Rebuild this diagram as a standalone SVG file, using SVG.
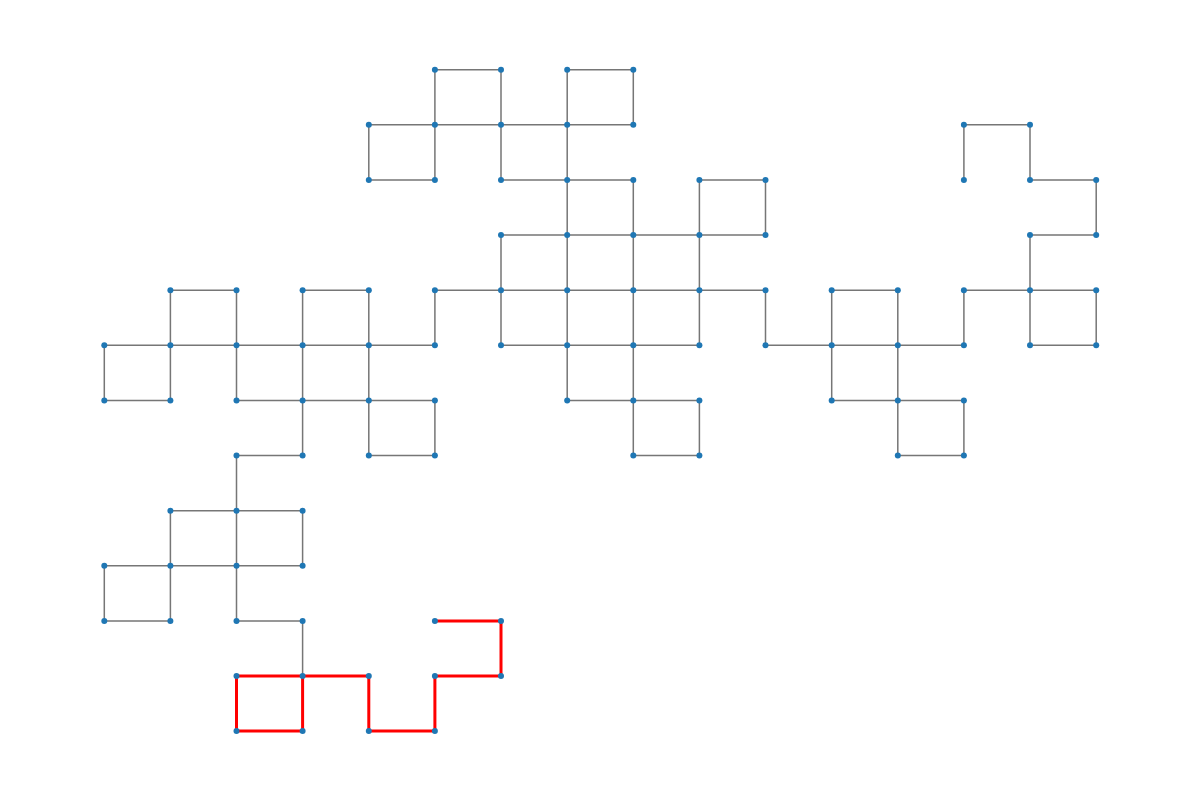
<svg xmlns="http://www.w3.org/2000/svg" width="1200" height="800" viewBox="0 0 1200 800">
<style>
.e{fill:none;stroke:#767676;stroke-width:1.5}
.r{fill:none;stroke:#ff0000;stroke-width:3;stroke-linejoin:miter;stroke-linecap:square}
.n{fill:#1f77b4}
</style>
<defs><circle id="d" r="3"/></defs>
<rect width="1200" height="800" fill="#ffffff"/>
<g id="edges">
<path class="e" d="M434.9 69.7H501.0M567.2 69.7H633.3M368.8 124.8H633.3M963.9 124.8H1030.0M368.8 179.9H434.9M501.0 179.9H633.3M699.4 179.9H765.5M1030.0 179.9H1096.2M501.0 235.1H765.5M1030.0 235.1H1096.2M170.4 290.2H236.5M302.6 290.2H368.8M434.9 290.2H765.5M831.7 290.2H897.8M963.9 290.2H1096.2M104.3 345.3H434.9M501.0 345.3H699.4M765.5 345.3H963.9M1030.0 345.3H1096.2M104.3 400.4H170.4M236.5 400.4H434.9M567.2 400.4H699.4M831.7 400.4H963.9M236.5 455.5H302.6M368.8 455.5H434.9M633.3 455.5H699.4M897.8 455.5H963.9M170.4 510.7H302.6M104.3 565.8H302.6M104.3 620.9H170.4M236.5 620.9H302.6"/>
<path class="e" d="M104.3 345.3V400.4M104.3 565.8V620.9M170.4 290.2V400.4M170.4 510.7V620.9M236.5 290.2V400.4M236.5 455.5V620.9M302.6 290.2V455.5M302.6 510.7V565.8M302.6 620.9V676.0M368.8 124.8V179.9M368.8 290.2V455.5M434.9 69.7V179.9M434.9 290.2V345.3M434.9 400.4V455.5M501.0 69.7V179.9M501.0 235.1V345.3M567.2 69.7V400.4M633.3 69.7V124.8M633.3 179.9V455.5M699.4 179.9V345.3M699.4 400.4V455.5M765.5 179.9V235.1M765.5 290.2V345.3M831.7 290.2V400.4M897.8 290.2V455.5M963.9 124.8V179.9M963.9 290.2V345.3M963.9 400.4V455.5M1030.0 124.8V179.9M1030.0 235.1V345.3M1096.2 179.9V235.1M1096.2 290.2V345.3"/>
<path class="r" d="M434.9 620.9H501.0V676.0H434.9V731.1H368.8V676.0H236.5V731.1H302.6V676.0"/>
</g>
<g id="nodes" class="n">
<g id="n5_0"><use href="#d" x="434.9" y="69.7"/></g>
<g id="n6_0"><use href="#d" x="501.0" y="69.7"/></g>
<g id="n7_0"><use href="#d" x="567.2" y="69.7"/></g>
<g id="n8_0"><use href="#d" x="633.3" y="69.7"/></g>
<g id="n4_1"><use href="#d" x="368.8" y="124.8"/></g>
<g id="n5_1"><use href="#d" x="434.9" y="124.8"/></g>
<g id="n6_1"><use href="#d" x="501.0" y="124.8"/></g>
<g id="n7_1"><use href="#d" x="567.2" y="124.8"/></g>
<g id="n8_1"><use href="#d" x="633.3" y="124.8"/></g>
<g id="n13_1"><use href="#d" x="963.9" y="124.8"/></g>
<g id="n14_1"><use href="#d" x="1030.0" y="124.8"/></g>
<g id="n4_2"><use href="#d" x="368.8" y="179.9"/></g>
<g id="n5_2"><use href="#d" x="434.9" y="179.9"/></g>
<g id="n6_2"><use href="#d" x="501.0" y="179.9"/></g>
<g id="n7_2"><use href="#d" x="567.2" y="179.9"/></g>
<g id="n8_2"><use href="#d" x="633.3" y="179.9"/></g>
<g id="n9_2"><use href="#d" x="699.4" y="179.9"/></g>
<g id="n10_2"><use href="#d" x="765.5" y="179.9"/></g>
<g id="n13_2"><use href="#d" x="963.9" y="179.9"/></g>
<g id="n14_2"><use href="#d" x="1030.0" y="179.9"/></g>
<g id="n15_2"><use href="#d" x="1096.2" y="179.9"/></g>
<g id="n6_3"><use href="#d" x="501.0" y="235.1"/></g>
<g id="n7_3"><use href="#d" x="567.2" y="235.1"/></g>
<g id="n8_3"><use href="#d" x="633.3" y="235.1"/></g>
<g id="n9_3"><use href="#d" x="699.4" y="235.1"/></g>
<g id="n10_3"><use href="#d" x="765.5" y="235.1"/></g>
<g id="n14_3"><use href="#d" x="1030.0" y="235.1"/></g>
<g id="n15_3"><use href="#d" x="1096.2" y="235.1"/></g>
<g id="n1_4"><use href="#d" x="170.4" y="290.2"/></g>
<g id="n2_4"><use href="#d" x="236.5" y="290.2"/></g>
<g id="n3_4"><use href="#d" x="302.6" y="290.2"/></g>
<g id="n4_4"><use href="#d" x="368.8" y="290.2"/></g>
<g id="n5_4"><use href="#d" x="434.9" y="290.2"/></g>
<g id="n6_4"><use href="#d" x="501.0" y="290.2"/></g>
<g id="n7_4"><use href="#d" x="567.2" y="290.2"/></g>
<g id="n8_4"><use href="#d" x="633.3" y="290.2"/></g>
<g id="n9_4"><use href="#d" x="699.4" y="290.2"/></g>
<g id="n10_4"><use href="#d" x="765.5" y="290.2"/></g>
<g id="n11_4"><use href="#d" x="831.7" y="290.2"/></g>
<g id="n12_4"><use href="#d" x="897.8" y="290.2"/></g>
<g id="n13_4"><use href="#d" x="963.9" y="290.2"/></g>
<g id="n14_4"><use href="#d" x="1030.0" y="290.2"/></g>
<g id="n15_4"><use href="#d" x="1096.2" y="290.2"/></g>
<g id="n0_5"><use href="#d" x="104.3" y="345.3"/></g>
<g id="n1_5"><use href="#d" x="170.4" y="345.3"/></g>
<g id="n2_5"><use href="#d" x="236.5" y="345.3"/></g>
<g id="n3_5"><use href="#d" x="302.6" y="345.3"/></g>
<g id="n4_5"><use href="#d" x="368.8" y="345.3"/></g>
<g id="n5_5"><use href="#d" x="434.9" y="345.3"/></g>
<g id="n6_5"><use href="#d" x="501.0" y="345.3"/></g>
<g id="n7_5"><use href="#d" x="567.2" y="345.3"/></g>
<g id="n8_5"><use href="#d" x="633.3" y="345.3"/></g>
<g id="n9_5"><use href="#d" x="699.4" y="345.3"/></g>
<g id="n10_5"><use href="#d" x="765.5" y="345.3"/></g>
<g id="n11_5"><use href="#d" x="831.7" y="345.3"/></g>
<g id="n12_5"><use href="#d" x="897.8" y="345.3"/></g>
<g id="n13_5"><use href="#d" x="963.9" y="345.3"/></g>
<g id="n14_5"><use href="#d" x="1030.0" y="345.3"/></g>
<g id="n15_5"><use href="#d" x="1096.2" y="345.3"/></g>
<g id="n0_6"><use href="#d" x="104.3" y="400.4"/></g>
<g id="n1_6"><use href="#d" x="170.4" y="400.4"/></g>
<g id="n2_6"><use href="#d" x="236.5" y="400.4"/></g>
<g id="n3_6"><use href="#d" x="302.6" y="400.4"/></g>
<g id="n4_6"><use href="#d" x="368.8" y="400.4"/></g>
<g id="n5_6"><use href="#d" x="434.9" y="400.4"/></g>
<g id="n7_6"><use href="#d" x="567.2" y="400.4"/></g>
<g id="n8_6"><use href="#d" x="633.3" y="400.4"/></g>
<g id="n9_6"><use href="#d" x="699.4" y="400.4"/></g>
<g id="n11_6"><use href="#d" x="831.7" y="400.4"/></g>
<g id="n12_6"><use href="#d" x="897.8" y="400.4"/></g>
<g id="n13_6"><use href="#d" x="963.9" y="400.4"/></g>
<g id="n2_7"><use href="#d" x="236.5" y="455.5"/></g>
<g id="n3_7"><use href="#d" x="302.6" y="455.5"/></g>
<g id="n4_7"><use href="#d" x="368.8" y="455.5"/></g>
<g id="n5_7"><use href="#d" x="434.9" y="455.5"/></g>
<g id="n8_7"><use href="#d" x="633.3" y="455.5"/></g>
<g id="n9_7"><use href="#d" x="699.4" y="455.5"/></g>
<g id="n12_7"><use href="#d" x="897.8" y="455.5"/></g>
<g id="n13_7"><use href="#d" x="963.9" y="455.5"/></g>
<g id="n1_8"><use href="#d" x="170.4" y="510.7"/></g>
<g id="n2_8"><use href="#d" x="236.5" y="510.7"/></g>
<g id="n3_8"><use href="#d" x="302.6" y="510.7"/></g>
<g id="n0_9"><use href="#d" x="104.3" y="565.8"/></g>
<g id="n1_9"><use href="#d" x="170.4" y="565.8"/></g>
<g id="n2_9"><use href="#d" x="236.5" y="565.8"/></g>
<g id="n3_9"><use href="#d" x="302.6" y="565.8"/></g>
<g id="n0_10"><use href="#d" x="104.3" y="620.9"/></g>
<g id="n1_10"><use href="#d" x="170.4" y="620.9"/></g>
<g id="n2_10"><use href="#d" x="236.5" y="620.9"/></g>
<g id="n3_10"><use href="#d" x="302.6" y="620.9"/></g>
<g id="n5_10"><use href="#d" x="434.9" y="620.9"/></g>
<g id="n6_10"><use href="#d" x="501.0" y="620.9"/></g>
<g id="n2_11"><use href="#d" x="236.5" y="676.0"/></g>
<g id="n3_11"><use href="#d" x="302.6" y="676.0"/></g>
<g id="n4_11"><use href="#d" x="368.8" y="676.0"/></g>
<g id="n5_11"><use href="#d" x="434.9" y="676.0"/></g>
<g id="n6_11"><use href="#d" x="501.0" y="676.0"/></g>
<g id="n2_12"><use href="#d" x="236.5" y="731.1"/></g>
<g id="n3_12"><use href="#d" x="302.6" y="731.1"/></g>
<g id="n4_12"><use href="#d" x="368.8" y="731.1"/></g>
<g id="n5_12"><use href="#d" x="434.9" y="731.1"/></g>
</g>
</svg>
